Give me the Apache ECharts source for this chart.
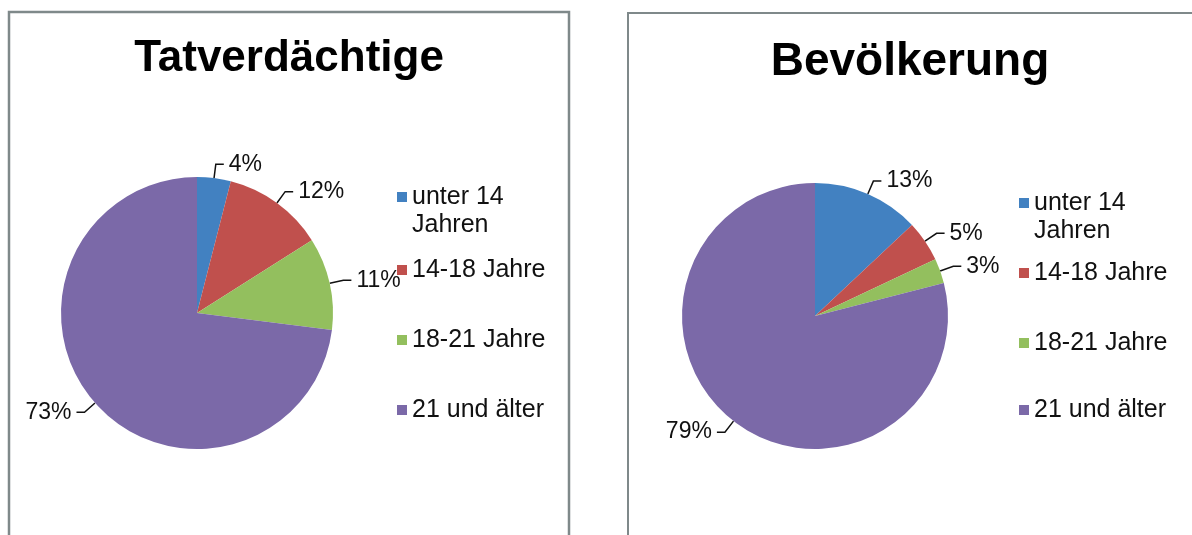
<!DOCTYPE html>
<html>
<head>
<meta charset="utf-8">
<script src="https://cdn.jsdelivr.net/npm/echarts@6/dist/echarts.min.js"></script>
<style>
  html, body { margin: 0; padding: 0; background: #fff; }
  #main { width: 1192px; height: 535px; }
</style>
</head>
<body>
<div id="main"></div>
<script>
// Altersgruppen
var categories = ['unter 14 Jahren', '14-18 Jahre', '18-21 Jahre', '21 und älter'];
// Anteile in Prozent
var tatverdaechtige = [4, 12, 11, 73];
var bevoelkerung = [13, 5, 3, 79];
var colors = ['#4281c1', '#c0504d', '#93bf5e', '#7b69a8'];

var font = 'Liberation Sans, Arial, sans-serif';

function pieData(values) {
    return categories.map(function (name, i) {
        return { name: name, value: values[i] };
    });
}

// eine Legende pro Eintrag, damit die Abstände wie im Original sind
// erster Eintrag ist zweizeilig: Quadrat oben in einem hohen Icon, damit es auf Höhe der ersten Zeile sitzt
function legends(left, tops) {
    return categories.map(function (name, i) {
        var first = i === 0;
        return {
            left: left,
            top: tops[i],
            orient: 'vertical',
            data: [name],
            icon: first ? 'path://M0,0h10v10h-10z M0,38h0.01v0.01h-0.01z' : 'rect',
            itemWidth: 10,
            itemHeight: first ? 38 : 10,
            itemGap: 0,
            selectedMode: false,
            formatter: first ? 'unter 14\nJahren' : '{name}',
            textStyle: {
                fontFamily: font,
                fontSize: 25,
                color: '#111',
                lineHeight: 28
            }
        };
    });
}

function pieSeries(values, center, radius) {
    return {
        type: 'pie',
        center: center,
        radius: radius,
        startAngle: 90,
        clockwise: true,
        data: pieData(values),
        itemStyle: { borderWidth: 0 },
        label: {
            show: true,
            formatter: '{c}%',
            fontFamily: font,
            fontSize: 23,
            color: '#111'
        },
        labelLine: {
            show: true,
            length: 14,
            length2: 8,
            lineStyle: { color: '#111', width: 1.5 }
        },
        emphasis: { disabled: true }
    };
}

var chart = echarts.init(document.getElementById('main'));
var option = {
    animation: false,
    color: colors,
    title: [
        {
            text: 'Tatverdächtige',
            left: 284,
            top: 32,
            textAlign: 'center',
            textStyle: { fontFamily: font, fontSize: 44, fontWeight: 'bold', color: '#000' }
        },
        {
            text: 'Bevölkerung',
            left: 905,
            top: 34,
            textAlign: 'center',
            textStyle: { fontFamily: font, fontSize: 46, fontWeight: 'bold', color: '#000' }
        }
    ],
    legend: legends(392, [178, 251, 321, 391]).concat(legends(1014, [184, 254, 324, 391])),
    graphic: [
        {
            type: 'rect',
            shape: { x: 9, y: 12, width: 560, height: 540 },
            style: { fill: 'none', stroke: '#7f898a', lineWidth: 2.5 }
        },
        {
            type: 'rect',
            shape: { x: 628, y: 13, width: 600, height: 540 },
            style: { fill: 'none', stroke: '#7f898a', lineWidth: 2 }
        }
    ],
    series: [
        pieSeries(tatverdaechtige, [197, 313], 136),
        pieSeries(bevoelkerung, [815, 316], 133)
    ]
};
chart.setOption(option);
</script>
</body>
</html>
